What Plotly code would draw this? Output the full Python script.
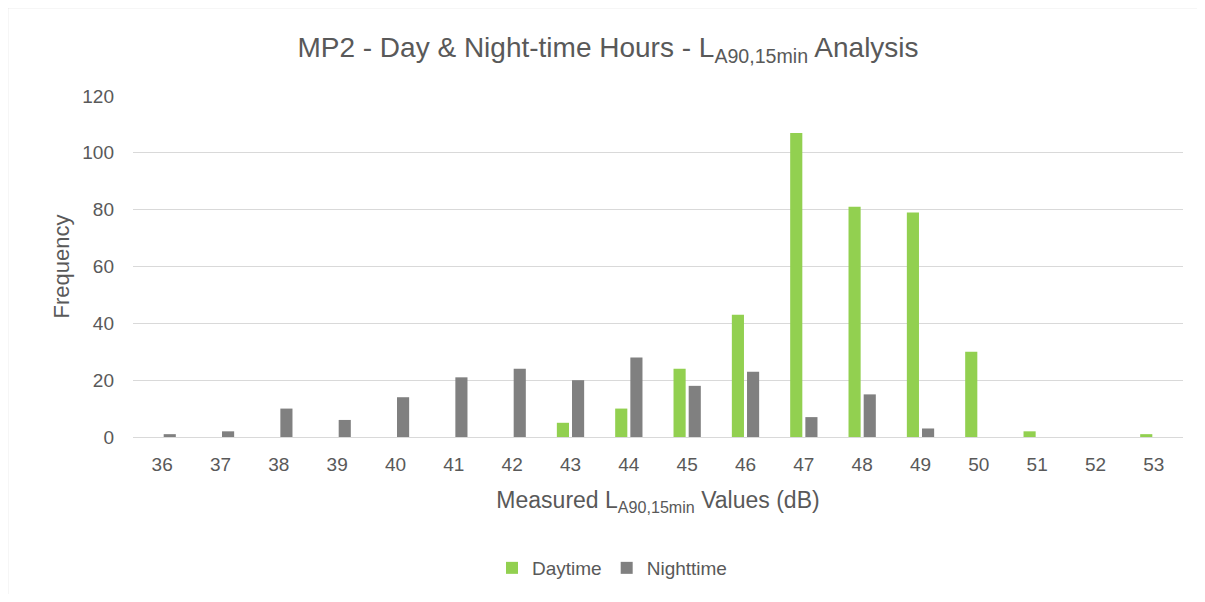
import plotly.graph_objects as go

categories = ["36", "37", "38", "39", "40", "41", "42", "43", "44", "45",
              "46", "47", "48", "49", "50", "51", "52", "53"]
daytime = [0, 0, 0, 0, 0, 0, 0, 5, 10, 24, 43, 107, 81, 79, 30, 2, 0, 1]
nighttime = [1, 2, 10, 6, 14, 21, 24, 20, 28, 18, 23, 7, 15, 3, 0, 0, 0, 0]
y_ticks = [0, 20, 40, 60, 80, 100, 120]

FONT = "Liberation Sans Narrow, Arial Narrow, Liberation Sans, Arial, sans-serif"
TXT = "#595959"

fig = go.Figure()
fig.add_trace(go.Bar(x=categories, y=daytime, name="Daytime",
                     marker=dict(color="#92D050", line=dict(width=0))))
fig.add_trace(go.Bar(x=categories, y=nighttime, name="Nighttime",
                     marker=dict(color="#808080", line=dict(width=0))))

# page has an 8px body margin, so the figure is laid out in (page - 8) pixels
OFF = 8
W, H = 1197, 586
L, T = 133 - OFF, 96 - OFF
R = W - (1183 - OFF)
B = H - (437 - OFF)
pw, ph = W - L - R, H - T - B

def px_x(p):
    return (p - OFF - L) / pw

def px_y(p):
    return (H - B - (p - OFF)) / ph

fig.update_layout(
    width=W, height=H,
    margin=dict(l=L, r=R, t=T, b=B, autoexpand=False),
    paper_bgcolor="white", plot_bgcolor="white",
    font=dict(family=FONT, color=TXT, size=19),
    barmode="group", bargap=0.48, bargroupgap=0.2,
    title=dict(text="MP2 - Day &amp; Night-time Hours - L<sub>A90,15min</sub> Analysis",
               x=(608 - OFF) / W, xanchor="center", y=1 - (47 - OFF) / H, yanchor="middle",
               font=dict(size=28, color=TXT, family=FONT)),
    xaxis=dict(title=dict(text="Measured L<sub>A90,15min</sub> Values (dB)",
                          font=dict(size=23, color=TXT), standoff=18),
               tickfont=dict(size=19, color=TXT), showgrid=False,
               showline=True, linecolor="#d9d9d9", linewidth=1, automargin=False,
               ticks="", type="category", ticklabelstandoff=10),
    yaxis=dict(title=dict(text="Frequency", font=dict(size=22, color=TXT), standoff=6),
               range=[0, 120], tickvals=y_ticks, tickfont=dict(size=19, color=TXT),
               showgrid=True, gridcolor="#d9d9d9", gridwidth=1, zeroline=False,
               ticks="", showline=False, ticklabelstandoff=18, automargin=False),
    legend=dict(orientation="h", x=px_x(612), xanchor="center", y=px_y(568), yanchor="middle",
                font=dict(size=19, color=TXT), itemwidth=30, traceorder="normal"),
    shapes=[dict(type="rect", xref="paper", yref="paper",
                 x0=px_x(7.5), x1=px_x(1215), y0=px_y(615), y1=px_y(7.5),
                 line=dict(color="#d9d9d9", width=1.5), layer="below")],
)

fig.write_html("out.html")
